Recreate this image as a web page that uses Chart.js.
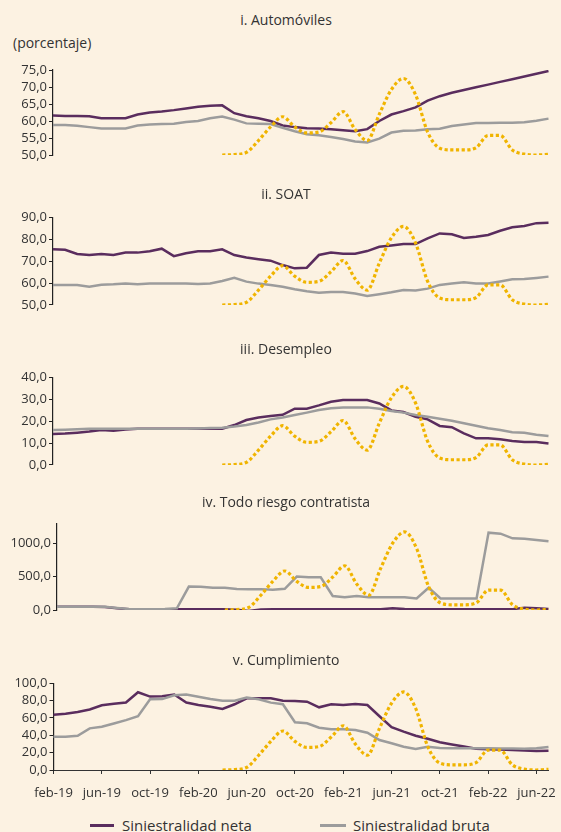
<!DOCTYPE html>
<html lang="es">
<head>
<meta charset="utf-8">
<title>Siniestralidad por ramo</title>
<script src="https://cdn.jsdelivr.net/npm/chart.js@4.4.1/dist/chart.umd.min.js"></script>
<style>
  html, body { margin: 0; padding: 0; background: #FCF2E2; }
  #hoja {
    position: relative; width: 561px; height: 832px; overflow: hidden;
    background: #FCF2E2; font-family: 'Open Sans', sans-serif; color: #333;
  }
  #hoja canvas { position: absolute; left: 0; top: 0; }
  .titulo {
    position: absolute; left: 0; width: 572px; text-align: center;
    font-size: 14px; line-height: 18px; white-space: nowrap;
  }
  .unidad { position: absolute; left: 13px; top: 34px; font-size: 14px; line-height: 18px; }
  .leyenda { position: absolute; top: 816px; font-size: 15px; line-height: 18px; white-space: nowrap; }
  .muestra { position: absolute; }
</style>
</head>
<body>
<div id="hoja">
  <div class="unidad">(porcentaje)</div>
  <div class="muestra" style="left:90px; top:824px; width:24px; height:2.5px; background:#5A2D5E;"></div>
  <div class="leyenda" style="left:122px;">Siniestralidad neta</div>
  <div class="muestra" style="left:320px; top:823.5px; width:26px; height:3.5px; background:#9C9C9C;"></div>
  <div class="leyenda" style="left:353px;">Siniestralidad bruta</div>
</div>
<script>
// Meses de la serie (feb-19 a jul-22); el eje rotula uno de cada cuatro
const meses = [
  'feb-19','mar-19','abr-19','may-19','jun-19','jul-19','ago-19','sep-19','oct-19','nov-19','dic-19',
  'ene-20','feb-20','mar-20','abr-20','may-20','jun-20','jul-20','ago-20','sep-20','oct-20','nov-20','dic-20',
  'ene-21','feb-21','mar-21','abr-21','may-21','jun-21','jul-21','ago-21','sep-21','oct-21','nov-21','dic-21',
  'ene-22','feb-22','mar-22','abr-22','may-22','jun-22','jul-22'
];

// i. Automóviles
const autosNeta = [61.6, 61.5, 61.5, 61.4, 60.8, 60.8, 60.8, 61.9, 62.5, 62.8, 63.2, 63.7, 64.2, 64.5, 64.6, 62.3, 61.4, 60.8, 60.0, 58.7, 58.2, 57.9, 57.8, 57.6, 57.3, 57.0, 57.6, 60.0, 61.9, 62.9, 64.0, 66.0, 67.3, 68.3, 69.1, 69.9, 70.7, 71.5, 72.3, 73.1, 73.9, 74.7];
const autosBruta = [58.8, 58.8, 58.6, 58.2, 57.8, 57.8, 57.8, 58.7, 59.0, 59.1, 59.2, 59.7, 60.0, 60.8, 61.3, 60.4, 59.3, 59.2, 59.1, 58.0, 57.0, 56.1, 55.8, 55.3, 54.7, 54.0, 53.7, 54.8, 56.6, 57.1, 57.2, 57.6, 57.7, 58.5, 59.0, 59.4, 59.4, 59.5, 59.5, 59.6, 60.1, 60.7];
const ticksAutos = [50, 55, 60, 65, 70, 75];

// ii. SOAT
const soatNeta = [75.5, 75.3, 73.4, 72.9, 73.4, 72.9, 74.0, 74.0, 74.6, 75.8, 72.4, 73.7, 74.6, 74.6, 75.5, 72.9, 71.8, 71.0, 70.3, 68.3, 66.8, 67.1, 72.9, 74.0, 73.5, 73.5, 74.7, 76.7, 77.3, 77.9, 77.9, 80.5, 82.8, 82.4, 80.7, 81.3, 82.1, 84.0, 85.6, 86.2, 87.5, 87.7];
const soatBruta = [59.2, 59.2, 59.2, 58.4, 59.3, 59.5, 59.9, 59.5, 59.9, 59.9, 59.9, 59.8, 59.6, 59.9, 61.0, 62.5, 60.7, 59.8, 59.2, 58.4, 57.2, 56.3, 55.6, 56.0, 56.0, 55.3, 54.1, 54.9, 55.8, 56.9, 56.6, 57.5, 59.2, 59.9, 60.4, 59.9, 59.9, 60.8, 61.8, 61.9, 62.4, 63.0];
const ticksSoat = [50, 60, 70, 80, 90];

// iii. Desempleo
const desempleoNeta = [14.2, 14.4, 14.8, 15.3, 16.0, 15.7, 16.3, 16.6, 16.6, 16.6, 16.6, 16.6, 16.6, 16.6, 16.6, 18.3, 20.6, 21.8, 22.4, 23.0, 25.8, 25.8, 27.3, 29.0, 29.8, 29.8, 29.8, 28.2, 25.0, 24.3, 22.1, 20.9, 17.9, 17.3, 14.5, 12.2, 12.2, 11.8, 11.0, 10.5, 10.5, 9.9];
const desempleoBruta = [16.0, 16.2, 16.4, 16.6, 16.6, 16.6, 16.6, 16.6, 16.6, 16.6, 16.6, 16.6, 16.7, 16.9, 17.1, 17.6, 18.3, 19.5, 20.9, 21.8, 22.9, 24.0, 25.2, 26.0, 26.4, 26.4, 26.4, 25.8, 24.7, 24.0, 22.9, 22.1, 21.2, 20.3, 19.1, 18.0, 16.8, 16.0, 15.0, 14.8, 13.9, 13.3];
const ticksDesempleo = [0, 10, 20, 30, 40];

// iv. Todo riesgo contratista
const trcNeta = [50, 50, 50, 50, 45, 25, 12, 10, 10, 10, 12, 12, 12, 12, 12, 5, -15, 8, 12, 12, 12, 12, 12, 12, 12, 12, 12, 12, 25, 14, 12, 12, 12, 12, 12, 12, 12, 12, 12, 35, 25, 15];
const trcBruta = [50, 50, 50, 50, 48, 30, 15, 12, 10, 15, 25, 352, 350, 335, 333, 315, 313, 313, 305, 318, 502, 490, 490, 210, 192, 210, 192, 192, 192, 190, 172, 333, 172, 172, 172, 172, 1160, 1145, 1075, 1070, 1050, 1030];
const ticksTrc = [0, 500, 1000];

// v. Cumplimiento
const cumplNeta = [63.8, 65.0, 67.0, 69.8, 74.7, 76.5, 77.8, 89.7, 84.7, 85.0, 87.0, 77.8, 75.0, 73.0, 70.4, 75.8, 82.7, 82.7, 82.7, 80.0, 79.6, 78.8, 72.3, 75.8, 75.0, 76.2, 75.0, 62.0, 49.5, 44.2, 39.5, 36.0, 32.0, 29.5, 27.0, 24.5, 24.0, 23.5, 23.0, 22.5, 21.8, 22.2];
const cumplBruta = [38.3, 38.3, 39.5, 48.0, 49.8, 53.7, 57.5, 62.0, 81.6, 81.8, 86.2, 87.0, 84.6, 82.0, 80.0, 80.0, 83.5, 81.5, 77.7, 75.8, 55.0, 53.8, 48.8, 47.0, 47.0, 46.2, 43.0, 34.6, 30.8, 26.9, 24.2, 26.9, 25.5, 25.0, 25.0, 25.0, 25.0, 24.8, 24.8, 24.5, 25.0, 26.5];
const ticksCumpl = [0, 20, 40, 60, 80, 100];

// Índice de referencia (0 = base del eje, 100 = tope del eje), común a los cinco paneles
const referencia = [null, null, null, null, null, null, null, null, null, null, null, null, null, null,
  0, 0.5, 3, 17, 33, 45, 33, 26, 27, 38, 51, 30, 17, 48, 77, 90, 71, 27, 8, 6, 6, 8.5, 23, 23, 6, 1, 0, 0.8];

const MORADO = '#5A2D5E';
const GRIS = '#9C9C9C';
const AMARILLO = '#F0B400';
const TINTA = '#333333';
const EJE = '#222222';
const FUENTE = "'Open Sans', sans-serif";
const ALTO = 832, ANCHO = 561;
const ALTO_EJE_X = 30;

const paneles = [
  { titulo: 'i. Automóviles', yTitulo: 11, neta: autosNeta, bruta: autosBruta, marcas: ticksAutos, min: 50, max: 75, arriba: 70, abajo: 155, ejeY: 53 },
  { titulo: 'ii. SOAT', yTitulo: 185, neta: soatNeta, bruta: soatBruta, marcas: ticksSoat, min: 50, max: 90, arriba: 217.7, abajo: 305, ejeY: 53 },
  { titulo: 'iii. Desempleo', yTitulo: 340, neta: desempleoNeta, bruta: desempleoBruta, marcas: ticksDesempleo, min: 0, max: 40, arriba: 377.7, abajo: 465, ejeY: 53 },
  { titulo: 'iv. Todo riesgo contratista', yTitulo: 493, neta: trcNeta, bruta: trcBruta, marcas: ticksTrc, min: 0, max: 1300, arriba: 523.3, abajo: 610, ejeY: 57 },
  { titulo: 'v. Cumplimiento', yTitulo: 651, neta: cumplNeta, bruta: cumplBruta, marcas: ticksCumpl, min: 0, max: 100, arriba: 683.3, abajo: 770, ejeY: 53.5, conEjeX: true }
];

const hoja = document.getElementById('hoja');
const formato = v => v.toFixed(1).replace('.', ',');

paneles.forEach(p => {
  const t = document.createElement('div');
  t.className = 'titulo';
  t.style.top = p.yTitulo + 'px';
  t.textContent = p.titulo;
  hoja.appendChild(t);

  const lienzo = document.createElement('canvas');
  lienzo.width = ANCHO;
  lienzo.height = ALTO;
  lienzo.style.width = ANCHO + 'px';
  lienzo.style.height = ALTO + 'px';
  hoja.appendChild(lienzo);

  // Solo el panel inferior muestra el eje de meses, con una marca cada cuatro meses
  const ejeX = p.conEjeX ? {
    display: true,
    afterBuildTicks: s => { s.ticks = s.ticks.filter(k => k.value % 4 === 0); },
    afterFit: s => { s.height = ALTO_EJE_X; s.paddingLeft = 0; s.paddingRight = 0; },
    border: { display: true, color: TINTA, width: 1 },
    grid: { drawOnChartArea: false, drawTicks: true, tickLength: 4, tickColor: TINTA },
    ticks: {
      autoSkip: false, maxRotation: 0, minRotation: 0, padding: 11,
      color: TINTA, font: { family: FUENTE, size: 13 }
    }
  } : { display: false };

  new Chart(lienzo, {
    type: 'line',
    data: {
      labels: meses,
      datasets: [
        { label: 'Siniestralidad neta', data: p.neta, borderColor: MORADO, backgroundColor: MORADO,
          borderWidth: 2.5, pointRadius: 0, tension: 0, yAxisID: 'y', order: 3 },
        { label: 'Siniestralidad bruta', data: p.bruta, borderColor: GRIS, backgroundColor: GRIS,
          borderWidth: 2.5, pointRadius: 0, tension: 0, yAxisID: 'y', order: 2 },
        { label: 'Referencia', data: referencia, borderColor: AMARILLO, backgroundColor: AMARILLO,
          borderWidth: 3.2, borderDash: [3.2, 2.5], borderCapStyle: 'butt', pointRadius: 0,
          cubicInterpolationMode: 'monotone', spanGaps: false, yAxisID: 'yRef', order: 1 }
      ]
    },
    options: {
      responsive: false, animation: false, devicePixelRatio: 1, events: [],
      layout: { padding: { top: p.arriba, left: 0, right: 12.5,
        bottom: p.conEjeX ? ALTO - p.abajo - ALTO_EJE_X : ALTO - p.abajo } },
      plugins: { legend: { display: false }, tooltip: { enabled: false }, title: { display: false } },
      scales: {
        x: ejeX,
        y: {
          min: p.min, max: p.max,
          afterBuildTicks: s => { s.ticks = p.marcas.map(v => ({ value: v })); },
          afterFit: s => { s.width = p.ejeY; },
          border: { display: true, color: EJE, width: 1.2 },
          grid: { drawOnChartArea: false, drawTicks: true, tickLength: 4, tickColor: EJE },
          ticks: { autoSkip: false, color: TINTA, padding: 2, font: { family: FUENTE, size: 13 },
            callback: v => formato(v) }
        },
        yRef: { display: false, min: 0, max: 100 }
      }
    }
  });
});
</script>
</body>
</html>
